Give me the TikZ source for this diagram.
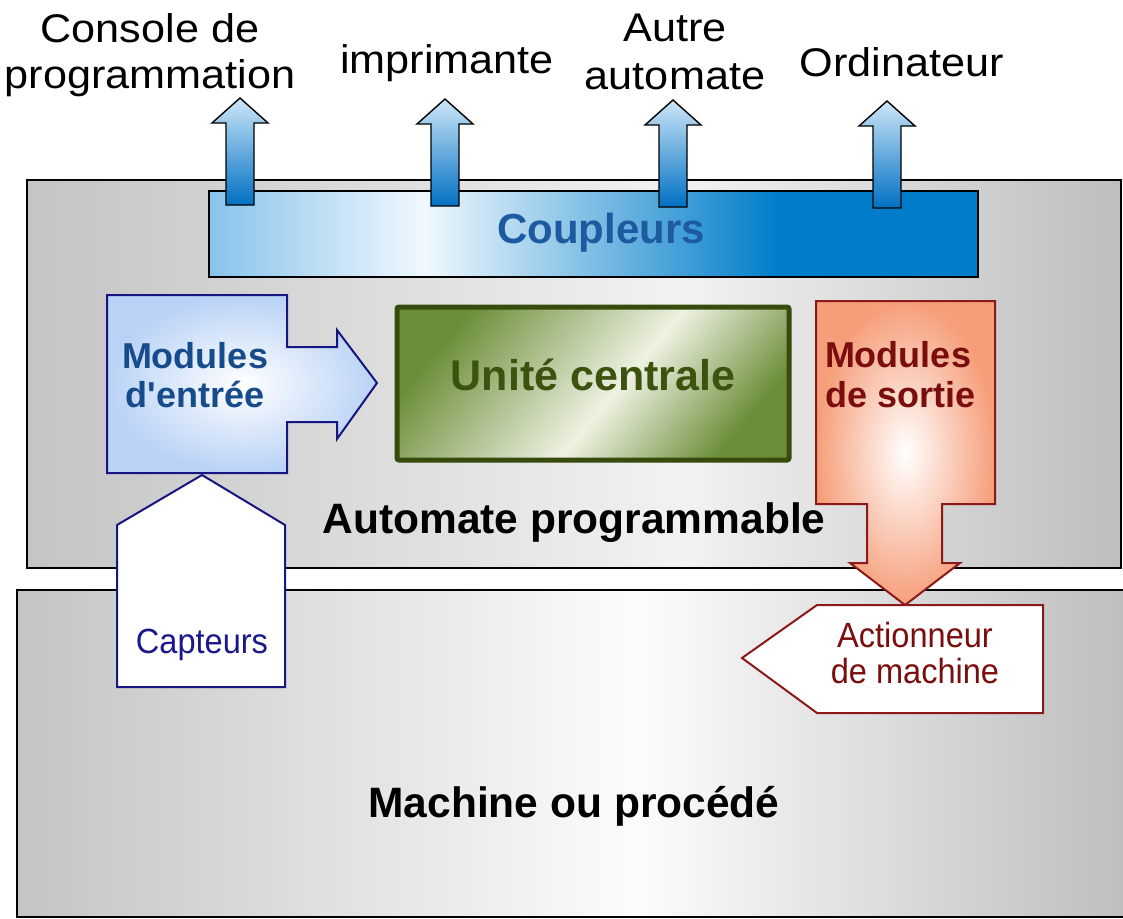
\documentclass[tikz,border=0pt]{standalone}
\usepackage{fontspec}
\setmainfont{Liberation Sans}
\newfontfamily\widesf{Liberation Sans}[FakeStretch=1.08]
\newfontfamily\narrowsf{Liberation Sans}[FakeStretch=0.93]
% straight apostrophe, set as a glyph so that no quote mapping applies
\newcommand{\straightquote}{{\XeTeXglyph\XeTeXcharglyph"0027\relax}}

% box and arrow colours
\definecolor{boxgray}{RGB}{196,196,196}
\definecolor{boxgrayR}{RGB}{190,190,190}
\definecolor{boxlight}{RGB}{242,242,242}
\definecolor{machlight}{RGB}{252,252,252}
\definecolor{cplL}{RGB}{135,195,235}
\definecolor{cplW}{RGB}{240,248,253}
\definecolor{cplB}{RGB}{0,125,202}
\definecolor{cpltext}{RGB}{30,90,160}
\definecolor{upTop}{RGB}{205,230,247}
\definecolor{upBot}{RGB}{0,112,196}
\definecolor{ucgreen}{RGB}{108,142,58}
\definecolor{ucwhite}{RGB}{238,242,226}
\definecolor{ucborder}{RGB}{55,75,12}
\definecolor{uctext}{RGB}{60,82,15}
\definecolor{inblue}{RGB}{185,210,246}
\definecolor{inborder}{RGB}{22,22,130}
\definecolor{intext}{RGB}{22,75,140}
\definecolor{captext}{RGB}{25,25,140}
\definecolor{outsalmon}{RGB}{246,158,122}
\definecolor{outborder}{RGB}{140,25,25}
\definecolor{outtext}{RGB}{122,14,14}

% gradients (the middle 50bp band is fitted to the shaded path)
\pgfdeclarehorizontalshading{automshade}{100bp}{color(0bp)=(boxgray); color(25bp)=(boxgray); color(55bp)=(boxlight); color(75bp)=(boxgrayR); color(100bp)=(boxgrayR)}
\pgfdeclarehorizontalshading{machshade}{100bp}{color(0bp)=(boxgray); color(25bp)=(boxgray); color(53bp)=(machlight); color(75bp)=(boxgrayR); color(100bp)=(boxgrayR)}
\pgfdeclarehorizontalshading{couplshade}{100bp}{color(0bp)=(cplL); color(25bp)=(cplL); color(39bp)=(cplW); color(62bp)=(cplB); color(100bp)=(cplB)}
\pgfdeclarehorizontalshading{greenstreak}{100bp}{color(0bp)=(ucgreen); color(25bp)=(ucgreen); color(54bp)=(ucwhite); color(75bp)=(ucgreen); color(100bp)=(ucgreen)}

\tikzset{
  panel/.style={draw=black, line width=2.5pt},
  uparrowbox/.style={draw=black, line width=1.4pt, top color=upTop, bottom color=upBot},
  toplabel/.style={font=\widesf\fontsize{40}{44}\selectfont, anchor=base, inner sep=0pt},
  biglabel/.style={font=\bfseries\fontsize{42.5}{46}\selectfont, anchor=base, inner sep=0pt},
  modlabel/.style={font=\bfseries\fontsize{36}{40}\selectfont, anchor=base, inner sep=0pt},
  smalllabel/.style={font=\narrowsf\fontsize{35}{38}\selectfont, anchor=base, inner sep=0pt},
  pics/blockup/.style={code={
    \path[uparrowbox] (-14,0) -- (-14,-82) -- (-28,-82) -- (0,-107)
      -- (28,-82) -- (14,-82) -- (14,0) -- cycle;
  }}
}

\begin{document}
\begin{tikzpicture}[x=1pt, y=-1pt]
\useasboundingbox (0,0) rectangle (1123,918);
\fill[white] (0,0) rectangle (1123,918);

% programmable controller housing
\path[panel, shading=automshade] (27,180) rectangle (1121,568);
\node[biglabel] (autom) at (574,533) {Automate programmable};

% communication couplers and their outgoing links
\path[panel, shading=couplshade] (209,191) rectangle (978,277);
\node[font=\bfseries\fontsize{42}{44}\selectfont, anchor=base, inner sep=0pt, text=cpltext] (coupl) at (601,243) {Coupleurs};
\pic at (240,205) {blockup};
\pic at (445,206) {blockup};
\pic at (673,207) {blockup};
\pic at (887,208) {blockup};

\node[toplabel] (consoleA) at (150,42) {Console de};
\node[toplabel] (consoleB) at (150,88) {programmation};
\node[toplabel] (print) at (447,73) {imprimante};
\node[toplabel] (autreA) at (675,41) {Autre};
\node[toplabel] (autreB) at (675,89) {automate};
\node[toplabel] (pc) at (902,76) {Ordinateur};

% central processing unit
\path[draw=ucborder, line width=5pt, rounded corners=2pt, shading=greenstreak, shading angle=-40] (397,307) rectangle (789,460);
\node[font=\bfseries\fontsize{43}{46}\selectfont, anchor=base, inner sep=0pt, text=uctext] (cpu) at (593,390) {Unité centrale};

% input modules
\path[draw=inborder, line width=2pt, inner color=white, outer color=inblue]
  (107,295) -- (287,295) -- (287,347) -- (337,347) -- (337,330) -- (377,383)
  -- (337,439) -- (337,422) -- (287,422) -- (287,473) -- (107,473) -- cycle;
\node[modlabel, text=intext] (inA) at (195,368) {Modules};
\node[modlabel, text=intext] (inB) at (195,407) {d\straightquote entrée};

% machine / process
\path[panel, shading=machshade] (17,590) rectangle (1124,917);
\node[biglabel] (mach) at (574,817) {Machine ou procédé};

% sensors
\path[draw=inborder, line width=2pt, fill=white]
  (117,687) -- (117,525) -- (202,475) -- (285,525) -- (285,687) -- cycle;
\node[smalllabel, text=captext] (capt) at (202,653) {Capteurs};

% output modules
\path[draw=outborder, line width=2pt, inner color=white, outer color=outsalmon]
  (816,301) -- (995,301) -- (995,504) -- (942,504) -- (942,563) -- (960,563)
  -- (905,605) -- (850,563) -- (867,563) -- (867,504) -- (816,504) -- cycle;
\node[modlabel, text=outtext] (outA) at (898,367) {Modules};
\node[modlabel, text=outtext] (outB) at (901,407) {de sortie};

% machine actuator
\path[draw=outborder, line width=2pt, fill=white]
  (742,658) -- (817,605) -- (1043,605) -- (1043,713) -- (817,713) -- cycle;
\node[smalllabel, text=outtext] (actA) at (915,647) {Actionneur};
\node[smalllabel, text=outtext] (actB) at (915,683) {de machine};
\end{tikzpicture}
\end{document}
